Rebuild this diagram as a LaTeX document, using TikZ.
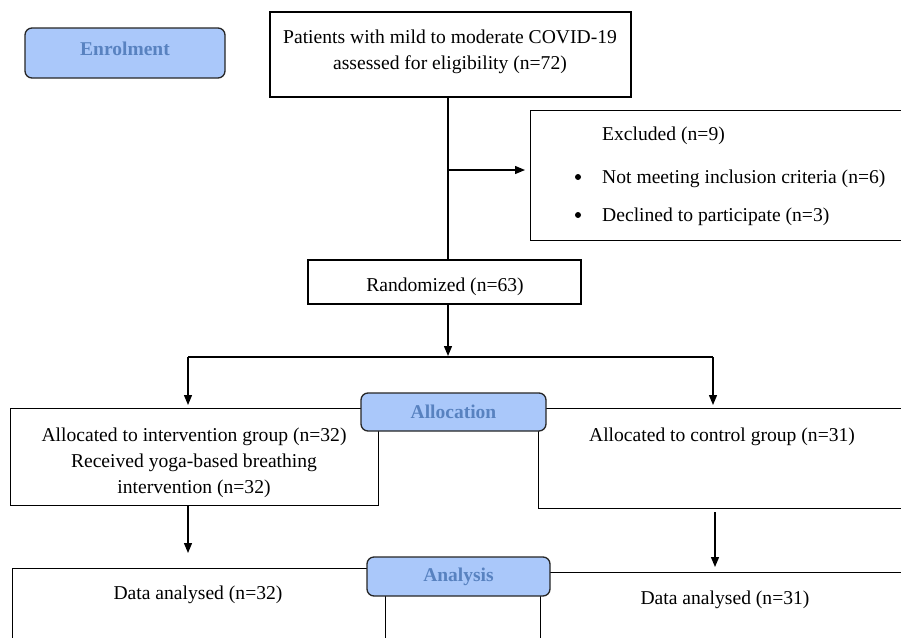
\documentclass[tikz,border=0pt]{standalone}
\usepackage{fontspec}
\setmainfont{Liberation Serif}
\usetikzlibrary{arrows.meta}
\definecolor{stagefill}{RGB}{170,200,250}
\definecolor{stagetext}{RGB}{88,130,192}
\tikzset{
  box/.style={draw=black, line width=1.3pt, fill=white, inner sep=0pt},
  stage/.style={draw=black!85, line width=1.3pt, fill=stagefill, rounded corners=7pt, inner sep=0pt,
    font=\fontsize{19.5}{21}\selectfont\bfseries, text=stagetext},
  txt/.style={font=\fontsize{19.6}{26}\selectfont, align=center, inner sep=0pt},
  ltxt/.style={font=\fontsize{19.6}{26}\selectfont, anchor=west, inner sep=0pt},
  conn/.style={line width=1.3pt, -{Triangle[length=10pt,width=8pt]}},
  plain/.style={line width=1.3pt}
}
\begin{document}
\begin{tikzpicture}[x=1pt,y=-1pt]
\useasboundingbox (0,0) rectangle (901,637);
\fill[white] (0,0) rectangle (901,637);
\clip (0,0) rectangle (901,637);

% enrolment
\node[stage, minimum width=200pt, minimum height=50pt] (enrol) at (125,53) {};
\node[font=\fontsize{19.5}{21}\selectfont\bfseries, text=stagetext, inner sep=0pt] (enroltxt) at (125,49) {Enrolment};

% top box
\node[box, minimum width=361pt, minimum height=85pt] (top) at (450.5,54.5) {};
\node[txt] (toptxt) at (450,52) {Patients with mild to moderate COVID-19\\assessed for eligibility (n=72)};

% excluded
\node[box, minimum width=390pt, minimum height=130pt, anchor=north west] (excl) at (530,110) {};
\node[ltxt] (ex0) at (602,136) {Excluded (n=9)};
\node[ltxt] (ex1) at (602,179) {Not meeting inclusion criteria (n=6)};
\node[ltxt] (ex2) at (602,217) {Declined to participate (n=3)};
\fill (578,177) circle (3pt);
\fill (578,215) circle (3pt);

% randomized
\node[box, minimum width=273pt, minimum height=44pt] (rand) at (444.5,282) {};
\node[txt] (randtxt) at (445,287) {Randomized (n=63)};

\coordinate (branch) at (448,170);
\draw[plain] (top.south -| branch) -- (rand.north -| branch);
\draw[conn, shorten >=5pt] (branch) -- (branch -| excl.west);

% split
\coordinate (xl) at (188,357);
\coordinate (xr) at (713,357);
\coordinate (xm) at (448,357);
\draw[conn, shorten >=1pt] (rand.south -| xm) -- (xm);
\draw[plain] (xl) -- (xr);
\draw[line width=2pt] (411,357) -- (491,357);

% allocation boxes
\node[box, minimum width=368pt, minimum height=97pt, anchor=north west] (lbox) at (10,408) {};
\node[box, minimum width=380pt, minimum height=100pt, anchor=north west] (rbox) at (538,408) {};
\draw[conn, shorten >=3pt] (xl) -- (lbox.north -| xl);
\draw[conn, shorten >=3pt] (xr) -- (rbox.north -| xr);
\node[txt] (ltxt) at (194,463) {Allocated to intervention group (n=32)\\Received yoga-based breathing\\intervention (n=32)};
\node[txt] (rtxt) at (722,437) {Allocated to control group (n=31)};
\node[stage, minimum width=185pt, minimum height=38pt] (alloc) at (453.5,412) {Allocation};

% analysis boxes
\node[box, minimum width=373pt, minimum height=90pt, anchor=north west] (blbox) at (12,568) {};
\node[box, minimum width=380pt, minimum height=90pt, anchor=north west] (brbox) at (540,572) {};
\coordinate (yl) at (188,505);
\coordinate (yr) at (715,512);
\draw[conn, shorten >=15pt] (lbox.south -| yl) -- (blbox.north -| yl);
\draw[conn, shorten >=5pt] (yr) -- (brbox.north -| yr);
\node[txt] (bltxt) at (198,595) {Data analysed (n=32)};
\node[txt] (brtxt) at (725,600) {Data analysed (n=31)};
\node[stage, minimum width=183pt, minimum height=39pt] (anal) at (458.5,576.5) {Analysis};
\end{tikzpicture}
\end{document}
